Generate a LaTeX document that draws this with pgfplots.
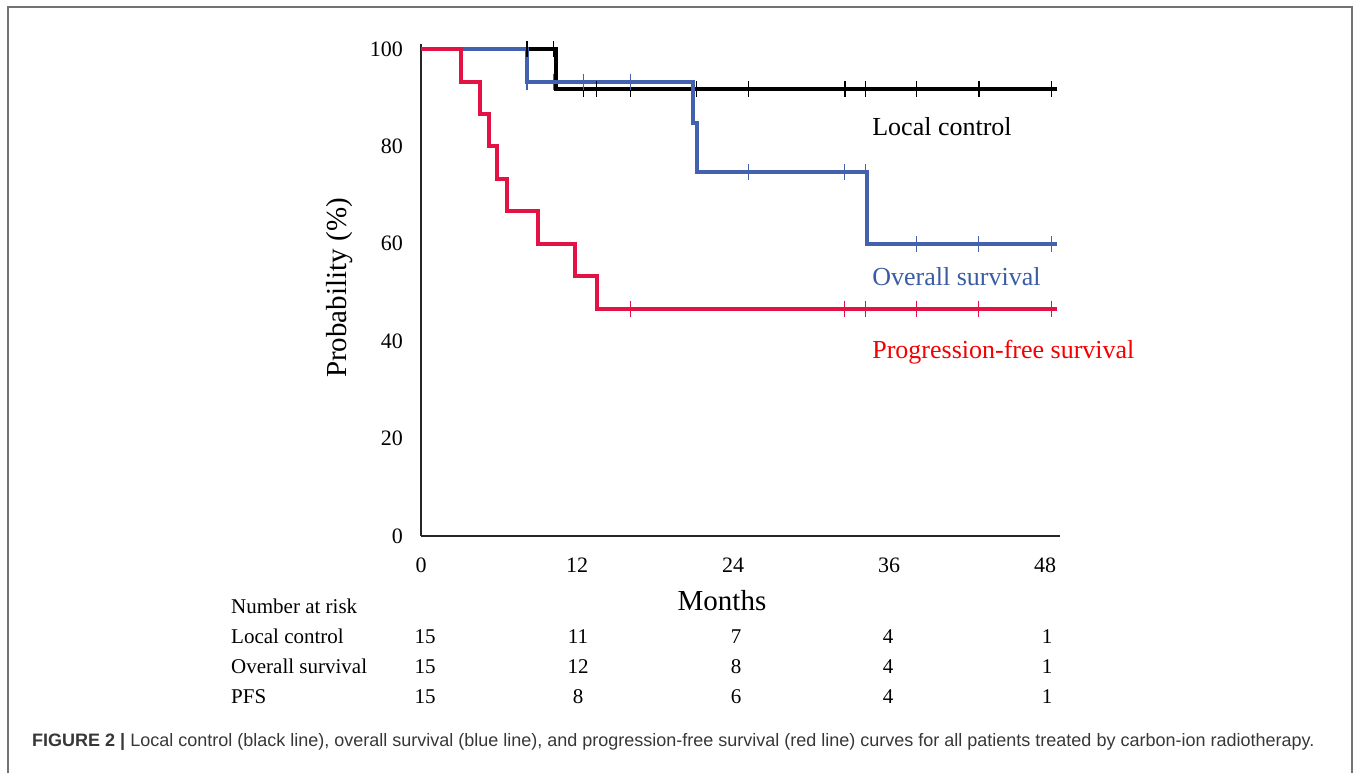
\documentclass[border=0pt]{standalone}
\usepackage{pgfplots}
\pgfplotsset{compat=1.18}
\usepackage{fontspec}
\setmainfont{Liberation Serif}
\newfontfamily\capfont{Liberation Sans}

\definecolor{osblue}{RGB}{66,98,176}
\definecolor{pfsred}{RGB}{226,18,68}
\definecolor{ostext}{RGB}{58,92,162}
\definecolor{pfstext}{RGB}{245,0,0}
\definecolor{framegray}{RGB}{115,115,115}
\definecolor{capgray}{RGB}{55,55,55}

\begin{document}
\begin{tikzpicture}[x=1pt,y=1pt]
% page = 1357 x 773 px, 1px = 1pt
\path (0,0) rectangle (1357,773);
\draw[framegray, line width=2pt] (8,0) -- (8,766) -- (1352,766) -- (1352,0);

\begin{axis}[
    at={(421pt,237pt)}, anchor=south west,
    scale only axis,
    width=639pt, height=491.9pt,
    xmin=0, xmax=49.15,
    ymin=0, ymax=101,
    axis lines=left,
    axis line style={-, line width=1.8pt, black!85},
    xtick={0,12,24,36,48},
    ytick={0,20,40,60,80,100},
    major tick length=0pt,
    tick label style={font=\fontsize{22}{26}\selectfont, inner sep=0pt},
    xticklabel style={anchor=north, yshift=-22pt},
    yticklabel style={anchor=east, xshift=-18pt},
    /pgf/number format/assume math mode=true,
    clip=false,
]

% Kaplan-Meier steps
\addplot[const plot, black, line width=4pt] coordinates {
    (0,100) (10.4,91.7) (48.9,91.7)
};
\addplot[const plot, osblue, line width=4pt] coordinates {
    (0,100) (8.15,93.3) (20.9,84.8) (21.2,74.7) (34.3,60) (48.9,60)
};
\addplot[const plot, pfsred, line width=4pt] coordinates {
    (0,100) (3.1,93.3) (4.5,86.7) (5.2,80) (5.85,73.3) (6.6,66.7)
    (9.0,60) (11.85,53.3) (13.55,46.7) (48.9,46.7)
};

% censoring ticks
\addplot[only marks, mark=|, mark size=8pt, black, mark options={line width=1.5pt}] coordinates {
    (8.15,100) (10.2,100)
    (12.5,91.7) (13.5,91.7) (16.1,91.7) (21.2,91.7) (25.2,91.7)
    (32.6,91.7) (34.2,91.7) (38.1,91.7) (42.9,91.7) (48.5,91.7)
};
\addplot[only marks, mark=|, mark size=8pt, osblue, mark options={line width=1.3pt}] coordinates {
    (8.15,93.3) (10.2,93.3) (12.5,93.3) (16.1,93.3)
    (25.2,74.7) (32.6,74.7) (34.2,74.7)
    (38.1,60) (42.9,60) (48.5,60)
};
\addplot[only marks, mark=|, mark size=8pt, pfsred, mark options={line width=1.3pt}] coordinates {
    (16.1,46.7) (32.6,46.7) (34.2,46.7) (38.1,46.7) (42.9,46.7) (48.5,46.7)
};

\node[anchor=west, inner sep=0pt, font=\fontsize{26}{30}\selectfont] at (axis cs:34.7,84) {Local control};
\node[anchor=west, inner sep=0pt, ostext, font=\fontsize{26}{30}\selectfont] at (axis cs:34.7,53.2) {Overall survival};
\node[anchor=west, inner sep=0pt, pfstext, font=\fontsize{26}{30}\selectfont] at (axis cs:34.7,37.8) {Progression-free survival};
\end{axis}

% axis titles
\node[rotate=90, font=\fontsize{29}{33}\selectfont] at (340,485) {Probability (\%)};
\node[anchor=base, inner sep=0pt, font=\fontsize{29}{33}\selectfont] at (722,163) {Months};

% number at risk table
\begin{scope}[every node/.style={inner sep=0pt, font=\fontsize{21}{25}\selectfont}]
\node[anchor=base west] at (231,160) {Number at risk};
\node[anchor=base west] at (231,130) {Local control};
\node[anchor=base west] at (231,100) {Overall survival};
\node[anchor=base west] at (231,70) {PFS};
\foreach \x/\a/\b/\c in {425/15/15/15, 578/11/12/8, 736/7/8/6, 888/4/4/4, 1047/1/1/1} {
    \node[anchor=base] at (\x,130) {\a};
    \node[anchor=base] at (\x,100) {\b};
    \node[anchor=base] at (\x,70) {\c};
}
\end{scope}

% caption
\node[anchor=base west, inner sep=0pt, capgray, font=\capfont\fontsize{18}{22}\selectfont] at (32,27)
    {\textbf{FIGURE 2 |} Local control (black line), overall survival (blue line), and progression-free survival (red line) curves for all patients treated by carbon-ion radiotherapy.};
\end{tikzpicture}
\end{document}
